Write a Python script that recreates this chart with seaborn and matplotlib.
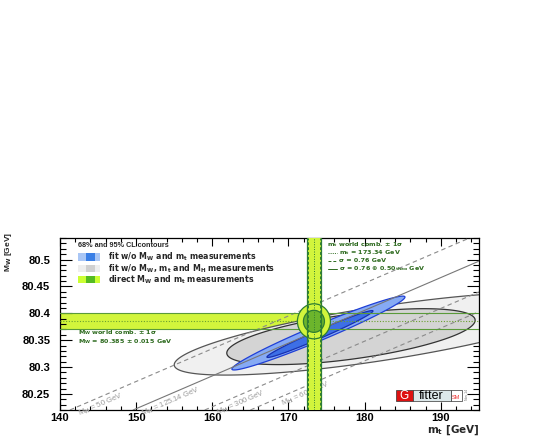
import numpy as np
import pandas as pd
import seaborn as sns
import matplotlib.pyplot as plt
from matplotlib.patches import Ellipse, Rectangle, Polygon
from matplotlib.ticker import MultipleLocator

# ------------------------------------------------------------
# DATA
# ------------------------------------------------------------
# SM lines for fixed MH : mt where the line crosses MW = 80.22, common slope
mh_names = ["50", "125.14", "300", "600"]
mh_mt_bottom = [141.3, 149.6, 159.0, 165.0]
mh_slope = 0.0061
mh_label_mt = [142.2, 150.5, 160.3, 168.9]

# contours : centre mt, centre MW, half width mt, half height MW, phase
grey_95 = [182.0, 80.362, 27.0, 0.077, 0.72]
grey_68 = [178.2, 80.3565, 16.3, 0.052, 0.944]
blue_95 = [173.93, 80.3632, 11.36, 0.0687, 0.2307]
blue_68 = [174.13, 80.3614, 6.96, 0.0436, 0.193]

# direct measurements
mt_world = 173.34
mt_sigma = 0.76
mt_sigma_tot = 0.91
mw_world = 80.385
mw_sigma = 0.015
circle_68 = [1.38, 0.0205]
circle_95 = [2.17, 0.0326]

# ------------------------------------------------------------
# STYLE
# ------------------------------------------------------------
sns.set_theme(style="ticks")
plt.rcParams["font.family"] = ["Liberation Sans", "DejaVu Sans"]
plt.rcParams["font.weight"] = "bold"
plt.rcParams["mathtext.fontset"] = "custom"
plt.rcParams["mathtext.rm"] = "DejaVu Sans:bold"
plt.rcParams["mathtext.it"] = "DejaVu Sans:bold"
plt.rcParams["mathtext.bf"] = "DejaVu Sans:bold"

WIDE = ["DejaVu Sans"]
band_col = "#d2f53c"
circ_col = "#6cb52c"
dgreen = "#2e7d32"
tgreen = "#2d6a1e"

fig = plt.figure(figsize=(5.45, 4.36), dpi=100)
ax = fig.add_axes([0.110, 0.0596, 0.7688, 0.3945])
ax.set_xlim(140, 195)
ax.set_ylim(80.22, 80.54)


def contour(ax, p, face, edge, z):
    t = np.linspace(0, 2 * np.pi, 300)
    x = p[0] + p[2] * np.cos(t)
    y = p[1] + p[3] * np.cos(t + p[4])
    poly = Polygon(np.column_stack([x, y]), closed=True, facecolor=face,
                   edgecolor=edge, lw=0.9, zorder=z)
    ax.add_patch(poly)


# MW band (below the grey contours)
ax.axhspan(mw_world - mw_sigma, mw_world + mw_sigma, facecolor=band_col, lw=0, zorder=0.5)

# grey contours
contour(ax, grey_95, "#f0f0f0", "#555555", 2)
contour(ax, grey_68, "#d4d4d4", "#333333", 3)

# blue contours
contour(ax, blue_95, "#86aaf4", "#1f3fd6", 5)
contour(ax, blue_68, "#3d6fe6", "#1730b0", 6)

# SM lines for fixed MH
rows = []
for name, mt0 in zip(mh_names, mh_mt_bottom):
    for mt in [mt0, 200.0]:
        rows.append({"MH": name, "mt": mt, "MW": 80.22 + mh_slope * (mt - mt0)})
lines = pd.DataFrame(rows)
sns.lineplot(data=lines, x="mt", y="MW", hue="MH", style="MH",
             palette=["#8a8a8a", "#777777", "#8a8a8a", "#8a8a8a"],
             dashes={"50": (4, 3), "125.14": "", "300": (4, 3), "600": (4, 3)},
             lw=0.8, legend=False, ax=ax, zorder=7)
for name, mt0, mtl in zip(mh_names, mh_mt_bottom, mh_label_mt):
    ax.text(mtl, 80.22 + mh_slope * (mtl - mt0) - 0.004,
            "M$_{\\rm H}$ = " + name + " GeV", color="#999999", fontsize=5.5,
            fontweight="normal", rotation=23.3, rotation_mode="anchor",
            ha="left", va="top", zorder=7)

# MW band lines
ax.axhline(mw_world - mw_sigma, color="#5a9a3a", lw=0.8, zorder=8)
ax.axhline(mw_world + mw_sigma, color="#5a9a3a", lw=0.8, zorder=8)
ax.axhline(mw_world, color="#6aa030", lw=0.8, ls=(0, (1, 1.5)), zorder=8)

# mt band
ax.axvspan(mt_world - mt_sigma_tot, mt_world + mt_sigma_tot, facecolor=band_col, lw=0, zorder=9)
ax.add_patch(Ellipse((mt_world, mw_world), 2 * circle_95[0], 2 * circle_95[1],
                     facecolor=band_col, edgecolor=dgreen, lw=0.9, zorder=10))
ax.add_patch(Ellipse((mt_world, mw_world), 2 * circle_68[0], 2 * circle_68[1],
                     facecolor=circ_col, edgecolor=dgreen, lw=0.9, zorder=11))
ax.axvline(mt_world - mt_sigma_tot, color=dgreen, lw=0.9, zorder=12)
ax.axvline(mt_world + mt_sigma_tot, color=dgreen, lw=0.9, zorder=12)
ax.axvline(mt_world - mt_sigma, color=dgreen, lw=0.7, ls=(0, (3, 2)), zorder=12)
ax.axvline(mt_world + mt_sigma, color=dgreen, lw=0.7, ls=(0, (3, 2)), zorder=12)
ax.axvline(mt_world, color=dgreen, lw=0.7, ls=(0, (1, 1.5)), zorder=12)

# legend (top left)
ax.text(0.043, 0.955, "68% and 95% CL contours", transform=ax.transAxes,
        fontsize=5.2, va="center", zorder=20)
leg_entries = [
    ("#a9c6f5", "#3a7fe6", "fit w/o M$_{\\rm W}$ and m$_{\\rm t}$ measurements"),
    ("#eeeeee", "#d0d0d0", "fit w/o M$_{\\rm W}$, m$_{\\rm t}$ and M$_{\\rm H}$ measurements"),
    ("#ccff33", "#55bb22", "direct M$_{\\rm W}$ and m$_{\\rm t}$ measurements"),
]
for i, (c1, c2, lab) in enumerate(leg_entries):
    yy = 0.890 - i * 0.066
    ax.add_patch(Rectangle((0.043, yy - 0.022), 0.053, 0.044, transform=ax.transAxes,
                           facecolor=c1, edgecolor="none", zorder=20))
    ax.add_patch(Rectangle((0.062, yy - 0.022), 0.022, 0.044, transform=ax.transAxes,
                           facecolor=c2, edgecolor="none", zorder=21))
    ax.text(0.1146, yy, lab, transform=ax.transAxes, fontsize=5.7, family=WIDE,
            va="center", zorder=20)

# mt world comb. box
ax.text(0.637, 0.960, "m$_{\\rm t}$ world comb. \u00b1 1\u03c3", transform=ax.transAxes,
        fontsize=4.6, family=WIDE, color=tgreen, va="center", zorder=20)
mt_rows = [((0, (1, 1.2)), "m$_{\\rm t}$ = 173.34 GeV"),
           ((0, (3, 2)), "\u03c3 = 0.76 GeV"),
           ("-", "\u03c3 = 0.76 \u2295 0.50$_{\\rm theo}$ GeV")]
for i, (ls, lab) in enumerate(mt_rows):
    yy = 0.913 - i * 0.046
    ax.plot([0.640, 0.661], [yy, yy], transform=ax.transAxes, color=tgreen,
            lw=0.7, ls=ls, zorder=20)
    ax.text(0.667, yy, lab, transform=ax.transAxes, fontsize=4.6, family=WIDE,
            color=tgreen, va="center", zorder=20)

# MW world comb.
ax.text(0.043, 0.450, "M$_{\\rm W}$ world comb. \u00b1 1\u03c3", transform=ax.transAxes,
        fontsize=4.6, family=WIDE, color=tgreen, va="center", zorder=20)
ax.text(0.043, 0.396, "M$_{\\rm W}$ = 80.385 \u00b1 0.015 GeV", transform=ax.transAxes,
        fontsize=4.6, family=WIDE, color=tgreen, va="center", zorder=20)

# Gfitter logo
ax.add_patch(Rectangle((0.802, 0.052), 0.040, 0.064, transform=ax.transAxes,
                       facecolor="#dd1111", edgecolor="#333333", lw=0.5, zorder=20))
ax.add_patch(Rectangle((0.842, 0.052), 0.091, 0.064, transform=ax.transAxes,
                       facecolor="#dde8ea", edgecolor="#333333", lw=0.5, zorder=20))
ax.add_patch(Rectangle((0.933, 0.052), 0.026, 0.064, transform=ax.transAxes,
                       facecolor="white", edgecolor="#333333", lw=0.5, zorder=20))
ax.text(0.822, 0.084, "G", transform=ax.transAxes, color="white", fontsize=8.5,
        fontweight="normal", ha="center", va="center", zorder=21)
ax.text(0.887, 0.084, "fitter", transform=ax.transAxes, color="black", fontsize=9,
        fontweight="normal", ha="center", va="center", zorder=21)
ax.text(0.946, 0.075, "SM", transform=ax.transAxes, color="#ee3333", fontsize=4,
        fontweight="normal", ha="center", va="center", zorder=21)
ax.text(0.972, 0.09, "Nov 14", transform=ax.transAxes, color="#777777", fontsize=2.5,
        fontweight="normal", rotation=90, ha="center", va="center", zorder=21)

# axes
ax.xaxis.set_major_locator(MultipleLocator(10))
ax.xaxis.set_minor_locator(MultipleLocator(2))
ax.yaxis.set_major_locator(MultipleLocator(0.05))
ax.yaxis.set_minor_locator(MultipleLocator(0.01))
ax.tick_params(which="both", direction="in", top=True, right=True, width=0.8,
               labelsize=8, colors="black")
ax.tick_params(axis="y", which="major", length=8.5, pad=7)
ax.tick_params(axis="y", which="minor", length=4.5)
ax.tick_params(axis="x", which="major", length=5.5, pad=2)
ax.tick_params(axis="x", which="minor", length=3)
ax.set_yticks([80.25, 80.3, 80.35, 80.4, 80.45, 80.5])
ax.set_yticklabels(["80.25", "80.3", "80.35", "80.4", "80.45", "80.5"])
for s in ax.spines.values():
    s.set_linewidth(0.9)
    s.set_color("black")
ax.set_xlabel("")
ax.set_ylabel("")
fig.text(9 / 545, 1 - 232 / 436, "M$_{\\rm W}$ [GeV]", rotation=90, fontsize=6,
         ha="center", va="top")
fig.text(479 / 545, 1 - 430 / 436, "m$_{\\rm t}$ [GeV]", fontsize=7.5, family=WIDE,
         ha="right", va="center")

plt.savefig("out.png", dpi=100)
